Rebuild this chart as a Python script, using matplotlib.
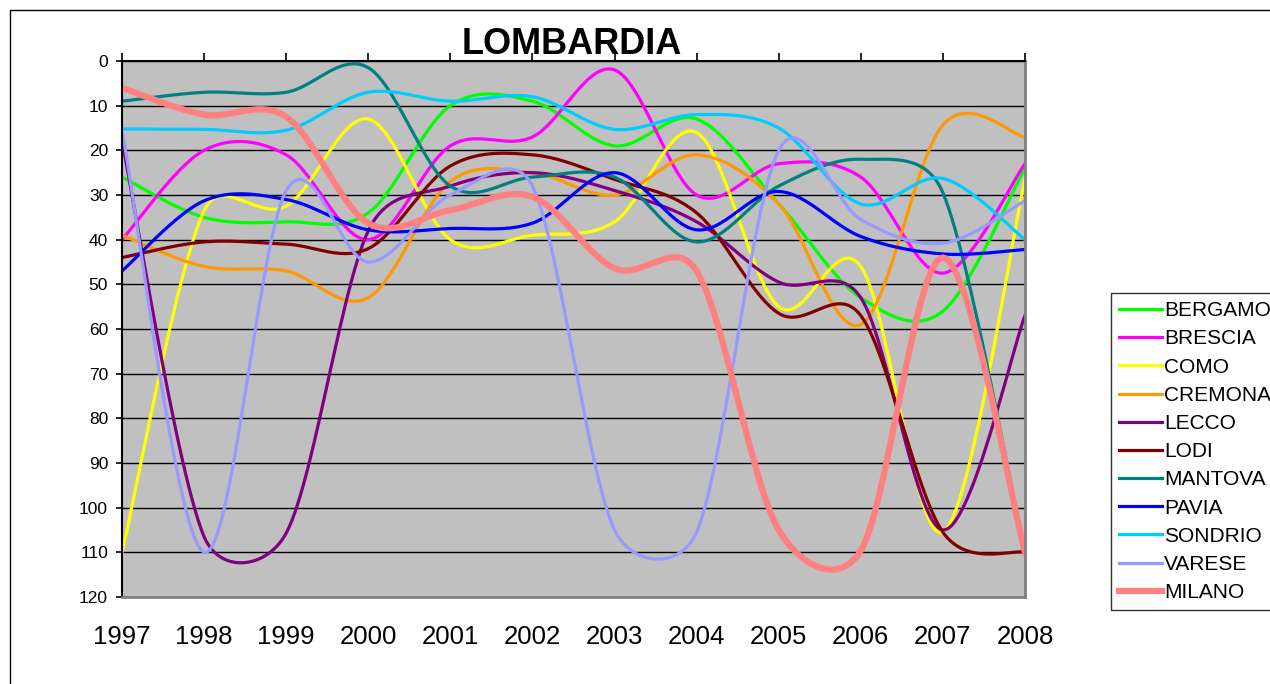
import numpy as np
import matplotlib
matplotlib.use('Agg')
from matplotlib import pyplot as plt
from matplotlib.patches import Rectangle

plt.rcParams['font.family'] = ['Liberation Sans', 'DejaVu Sans']

years = [1997, 1998, 1999, 2000, 2001, 2002, 2003, 2004, 2005, 2006, 2007, 2008]

bergamo = [26, 35, 36, 34, 10, 9, 19, 13, 32, 53, 56, 24]
brescia = [40, 20, 21, 40, 19, 17, 2, 30, 23, 26, 47.5, 23]
como = [110, 33.5, 32.5, 13, 40, 39, 36, 16, 55, 46, 105.5, 26.5]
cremona = [39, 46, 47, 53, 27, 25, 30, 21, 32, 59, 14.3, 17.1]
lecco = [18, 106.5, 105.7, 38, 28, 25, 29, 36, 49.5, 53, 105, 57]
lodi = [44, 40.5, 41, 42, 23.5, 21, 26.5, 34, 56.5, 57, 105.5, 110]
mantova = [9, 7, 7, 1.5, 28, 26, 26, 40.5, 28, 22, 29.5, 110]
pavia = [47, 31.3, 31, 37.8, 37.5, 36.3, 25, 37.8, 29.2, 39.3, 43.2, 42.2]
sondrio = [15.2, 15.3, 15.5, 7, 9, 8, 15.3, 12, 15, 32, 26.3, 40]
varese = [15.5, 110, 29, 45, 30, 28, 105, 105.5, 20, 35.5, 40.8, 31.3]
milano = [6, 12, 12.5, 36.3, 33.4, 30.4, 46.4, 47, 105, 109.6, 44, 110]

names = ['BERGAMO', 'BRESCIA', 'COMO', 'CREMONA', 'LECCO', 'LODI',
         'MANTOVA', 'PAVIA', 'SONDRIO', 'VARESE', 'MILANO']
series = [bergamo, brescia, como, cremona, lecco, lodi,
          mantova, pavia, sondrio, varese, milano]
colors = ['#00FF00', '#FF00FF', '#FFFF00', '#FF9900', '#800080', '#800000',
          '#008080', '#0000FF', '#00CCFF', '#9999FF', '#FF8080']

# pixels per year / per unit, the smoothing is done on screen like excel
XPX = (1025 - 122) / 11
YPX = (597 - 61) / 120


def smooth(xs, ys, n=30):
    p = np.column_stack([np.asarray(xs, float) * XPX, np.asarray(ys, float) * YPX])
    t = np.linspace(0, 1, n)[:, None]
    out = []
    for i in range(len(p) - 1):
        p1, p2 = p[i], p[i + 1]
        p0 = p[i - 1] if i > 0 else p1
        p3 = p[i + 2] if i + 2 < len(p) else p2
        d12 = np.hypot(*(p2 - p1))
        d02 = np.hypot(*(p2 - p0))
        d13 = np.hypot(*(p3 - p1))
        f1 = 1 / 6 if d02 / 6 < d12 / 2 else d12 / (2 * d02)
        f2 = 1 / 6 if d13 / 6 < d12 / 2 else d12 / (2 * d13)
        c1 = p1 + f1 * (p2 - p0)
        c2 = p2 - f2 * (p3 - p1)
        seg = (1 - t)**3 * p1 + 3 * (1 - t)**2 * t * c1 + 3 * (1 - t) * t**2 * c2 + t**3 * p2
        out.append(seg if i == 0 else seg[1:])
    out = np.vstack(out)
    return out[:, 0] / XPX, out[:, 1] / YPX


fig = plt.figure(figsize=(12.7, 6.84), dpi=100)
ax = fig.add_axes([122 / 1270, 1 - 597 / 684, (1025 - 122) / 1270, (597 - 61) / 684])
ax.set_facecolor('#C0C0C0')

for name, vals, c in zip(names, series, colors):
    sx, sy = smooth(years, vals)
    lw = 4.5 if name == 'MILANO' else 2.3
    ax.plot(sx, sy, color=c, lw=lw, label=name)

ax.set_xlim(1997, 2008)
ax.set_ylim(120, 0)
ax.set_yticks(range(0, 121, 10))
ax.set_xticks(years)
ax.yaxis.grid(True, color='black', lw=1.0)
ax.set_axisbelow(True)

ax.tick_params(axis='x', top=True, bottom=False, labeltop=False, labelbottom=True,
               direction='out', length=6, width=1.2, labelsize=18.5, pad=14)
ax.tick_params(axis='y', direction='out', length=4, width=1.2, labelsize=12.5, pad=6)
for s in ['left', 'top']:
    ax.spines[s].set_color('black')
    ax.spines[s].set_linewidth(1.5)
for s in ['right', 'bottom']:
    ax.spines[s].set_color('#808080')
    ax.spines[s].set_linewidth(2)

fig.text(572 / 1270, 1 - 45 / 684, 'LOMBARDIA', ha='center', va='center',
         fontsize=26, fontweight='bold')

leg = fig.legend(loc='upper left', bbox_to_anchor=(1111 / 1270, 1 - 293 / 684),
                 fontsize=15, frameon=True, fancybox=False, handlelength=2.05,
                 handletextpad=0.1, labelspacing=0.44, borderpad=0.4, borderaxespad=0)
leg.get_frame().set_edgecolor('black')
leg.get_frame().set_linewidth(1.0)

fig.patches.append(Rectangle((10 / 1270, -0.1), 1.2, 1.1 - 10 / 684, transform=fig.transFigure,
                             fill=False, edgecolor='black', lw=1.0, clip_on=False))

fig.savefig('out.png', dpi=100)
